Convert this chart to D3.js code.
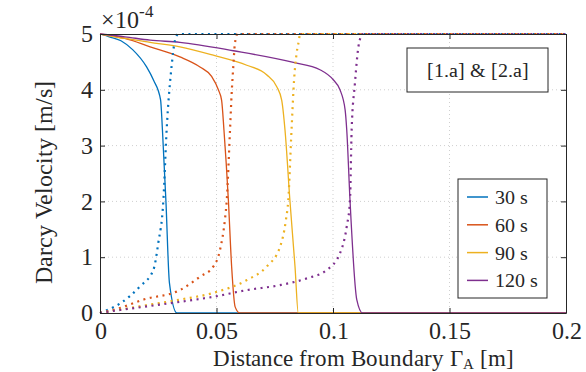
<!DOCTYPE html>
<html>
<head>
<meta charset="utf-8">
<script src="https://cdn.jsdelivr.net/npm/d3@7"></script>
<style>
  @font-face { font-family: "PlotSerif"; src: local("Liberation Serif"), local("Times New Roman"), local("Tinos"); }
  body { margin: 0; background: #fff; }
</style>
</head>
<body>
<div id="chart"></div>
<script>
// x positions in m, velocities in units of 1e-4 m/s
const solid30x = [0, 0.004, 0.009, 0.014, 0.020, 0.023, 0.026, 0.0268, 0.0283, 0.0298, 0.033, 0.2];
const solid30v = [5, 4.95, 4.88, 4.72, 4.41, 4.17, 3.82, 3.28, 2.0, 0.54, 0, 0];
const solid60x = [0, 0.0107, 0.0215, 0.0343, 0.0429, 0.0479, 0.0508, 0.0522, 0.0532, 0.0551, 0.0565, 0.058, 0.060, 0.2];
const solid60v = [5, 4.92, 4.77, 4.59, 4.41, 4.24, 4.0, 3.81, 3.28, 2.02, 0.83, 0.11, 0, 0];
const solid90x = [0, 0.0107, 0.0215, 0.0343, 0.0486, 0.063, 0.0715, 0.0758, 0.078, 0.0794, 0.0815, 0.0837, 0.0851, 0.2];
const solid90v = [5, 4.92, 4.85, 4.77, 4.62, 4.44, 4.27, 4.06, 3.81, 3.28, 2.02, 0.83, 0, 0];
const solid120x = [0, 0.0107, 0.0215, 0.0343, 0.0572, 0.083, 0.0944, 0.1001, 0.103, 0.1052, 0.1059, 0.1073, 0.1102, 0.1127, 0.2];
const solid120v = [5, 4.95, 4.89, 4.85, 4.70, 4.49, 4.36, 4.18, 4.0, 3.64, 3.28, 2.02, 0.24, 0, 0];

const dot30x = [0, 0.0029, 0.0086, 0.0172, 0.0229, 0.025, 0.0272, 0.0286, 0.0307, 0.0322, 0.0336, 0.2];
const dot30v = [0, 0.05, 0.17, 0.48, 0.77, 1.25, 2.02, 3.28, 4.41, 4.89, 5, 5];
const dot60x = [0, 0.0086, 0.0186, 0.0343, 0.0429, 0.0486, 0.0515, 0.0536, 0.0544, 0.0558, 0.0565, 0.0572, 0.0579, 0.059, 0.2];
const dot60v = [0, 0.09, 0.24, 0.41, 0.65, 0.83, 1.13, 1.67, 2.02, 3.28, 3.93, 4.41, 4.83, 5, 5];
const dot90x = [0, 0.0086, 0.0186, 0.0343, 0.0486, 0.063, 0.0715, 0.0773, 0.0798, 0.0808, 0.0822, 0.0833, 0.0844, 0.0854, 0.0858, 0.2];
const dot90v = [0, 0.06, 0.13, 0.24, 0.36, 0.59, 0.83, 1.19, 1.67, 2.02, 3.28, 4.18, 4.66, 4.89, 5, 5];
const dot120x = [0, 0.0029, 0.0186, 0.0343, 0.0486, 0.063, 0.0773, 0.0887, 0.0973, 0.103, 0.1059, 0.1073, 0.108, 0.1094, 0.1109, 0.1116, 0.1122, 0.2];
const dot120v = [0, 0.02, 0.11, 0.2, 0.29, 0.41, 0.50, 0.62, 0.77, 1.07, 1.55, 2.02, 3.28, 4.11, 4.77, 4.91, 5, 5];

const seriesNames = ["30 s", "60 s", "90 s", "120 s"];
const seriesColors = ["#0072BD", "#D95319", "#EDB120", "#7E2F8E"];
const xTicks = [0, 0.05, 0.1, 0.15, 0.2];
const xTickLabels = ["0", "0.05", "0.1", "0.15", "0.2"];
const yTicks = [0, 1, 2, 3, 4, 5];

const solids = [[solid30x, solid30v], [solid60x, solid60v], [solid90x, solid90v], [solid120x, solid120v]];
const dots = [[dot30x, dot30v], [dot60x, dot60v], [dot90x, dot90v], [dot120x, dot120v]];

const W = 586, H = 372;
const margin = { top: 34, right: 20, bottom: 59, left: 100 };
const width = W - margin.left - margin.right;
const height = H - margin.top - margin.bottom;
const serif = '"PlotSerif", "Liberation Serif", "Times New Roman", Tinos';
const axisColor = "#262626";

const svg = d3.select("#chart").append("svg")
    .attr("width", W)
    .attr("height", H);

const x = d3.scaleLinear().domain([0, 0.2]).range([0, width]);
const y = d3.scaleLinear().domain([0, 5]).range([height, 0]);

const g = svg.append("g").attr("transform", `translate(${margin.left},${margin.top})`);

// grid
g.append("g").selectAll("line").data(xTicks.slice(1, -1)).join("line")
    .attr("x1", d => x(d)).attr("x2", d => x(d))
    .attr("y1", 0).attr("y2", height)
    .attr("stroke", "#cfcfcf").attr("stroke-width", 1).attr("stroke-dasharray", "1,3");
g.append("g").selectAll("line").data(yTicks.slice(1, -1)).join("line")
    .attr("y1", d => y(d)).attr("y2", d => y(d))
    .attr("x1", 0).attr("x2", width)
    .attr("stroke", "#cfcfcf").attr("stroke-width", 1).attr("stroke-dasharray", "1,3");

const line = d3.line()
    .x(d => x(d[0]))
    .y(d => y(d[1]))
    .curve(d3.curveMonotoneX);

svg.append("defs").append("clipPath").attr("id", "clip")
    .append("rect").attr("x", -2).attr("y", -2).attr("width", width + 4).attr("height", height + 4);

const plot = g.append("g").attr("clip-path", "url(#clip)");

solids.forEach((s, i) => {
    plot.append("path")
        .datum(s[0].map((xv, j) => [xv, s[1][j]]))
        .attr("fill", "none")
        .attr("stroke", seriesColors[i])
        .attr("stroke-width", 1.3)
        .attr("d", line);
});
dots.forEach((s, i) => {
    plot.append("path")
        .datum(s[0].map((xv, j) => [xv, s[1][j]]))
        .attr("fill", "none")
        .attr("stroke", seriesColors[i])
        .attr("stroke-width", 2.2)
        .attr("stroke-dasharray", "2,4.5")
        .attr("d", line);
});

// axes
g.append("g")
    .attr("transform", `translate(0,${height})`)
    .call(d3.axisBottom(x).tickValues(xTicks).tickFormat((d, i) => xTickLabels[i]).tickSizeInner(-5).tickSizeOuter(0).tickPadding(8.5));
g.append("g")
    .call(d3.axisLeft(y).tickValues(yTicks).tickFormat(d3.format("d")).tickSizeInner(-5).tickSizeOuter(0).tickPadding(7));
g.append("g")
    .call(d3.axisTop(x).tickValues(xTicks).tickFormat("").tickSizeInner(-5).tickSizeOuter(0));
g.append("g")
    .attr("transform", `translate(${width},0)`)
    .call(d3.axisRight(y).tickValues(yTicks).tickFormat("").tickSizeInner(-5).tickSizeOuter(0));

g.selectAll(".domain").attr("stroke", axisColor);
g.selectAll(".tick line").attr("stroke", axisColor);
g.selectAll(".tick text").attr("font-size", 24);

// exponent
const ex = svg.append("text").attr("x", margin.left + 1).attr("y", 28).attr("font-size", 24);
ex.append("tspan").text("×10");
ex.append("tspan").attr("dy", -11).attr("font-size", 17).text("-4");

// axis labels
svg.append("text")
    .attr("transform", "translate(52,182) rotate(-90)")
    .attr("text-anchor", "middle")
    .attr("font-size", 24)
    .text("Darcy Velocity [m/s]");

const xl = svg.append("text")
    .attr("x", 363)
    .attr("y", 365.5)
    .attr("text-anchor", "middle")
    .attr("font-size", 23);
xl.append("tspan").text("Distance from Boundary Γ");
xl.append("tspan").attr("dy", 3).attr("font-size", 15).text("A");
xl.append("tspan").attr("dy", -3).text(" [m]");

// annotation box
g.append("rect")
    .attr("x", 307).attr("y", 14).attr("width", 141).attr("height", 44)
    .attr("fill", "#fff").attr("stroke", axisColor).attr("stroke-width", 1);
g.append("text")
    .attr("x", 377.5).attr("y", 43)
    .attr("text-anchor", "middle")
    .attr("font-size", 20)
    .text("[1.a] & [2.a]");

// legend
const legend = g.append("g").attr("transform", "translate(358,145)");
legend.append("rect")
    .attr("width", 89).attr("height", 119)
    .attr("fill", "#fff").attr("stroke", axisColor).attr("stroke-width", 1);
seriesNames.forEach((name, i) => {
    const item = legend.append("g").attr("transform", `translate(0,${18 + i * 27.8})`);
    item.append("line")
        .attr("x1", 9).attr("x2", 30)
        .attr("stroke", seriesColors[i]).attr("stroke-width", 1.5);
    item.append("text")
        .attr("x", 37).attr("y", 7)
        .attr("font-size", 20)
        .text(name);
});

function applyFont() {
    svg.selectAll("text")
        .attr("font-family", null)
        .style("font-family", serif)
        .attr("fill", axisColor);
}
applyFont();
// the serif face is resolved lazily; restyle once it is available
if (document.fonts && document.fonts.load) {
    document.fonts.load('24px "PlotSerif"').then(applyFont).catch(() => {});
    document.fonts.ready.then(applyFont);
}
</script>
</body>
</html>
